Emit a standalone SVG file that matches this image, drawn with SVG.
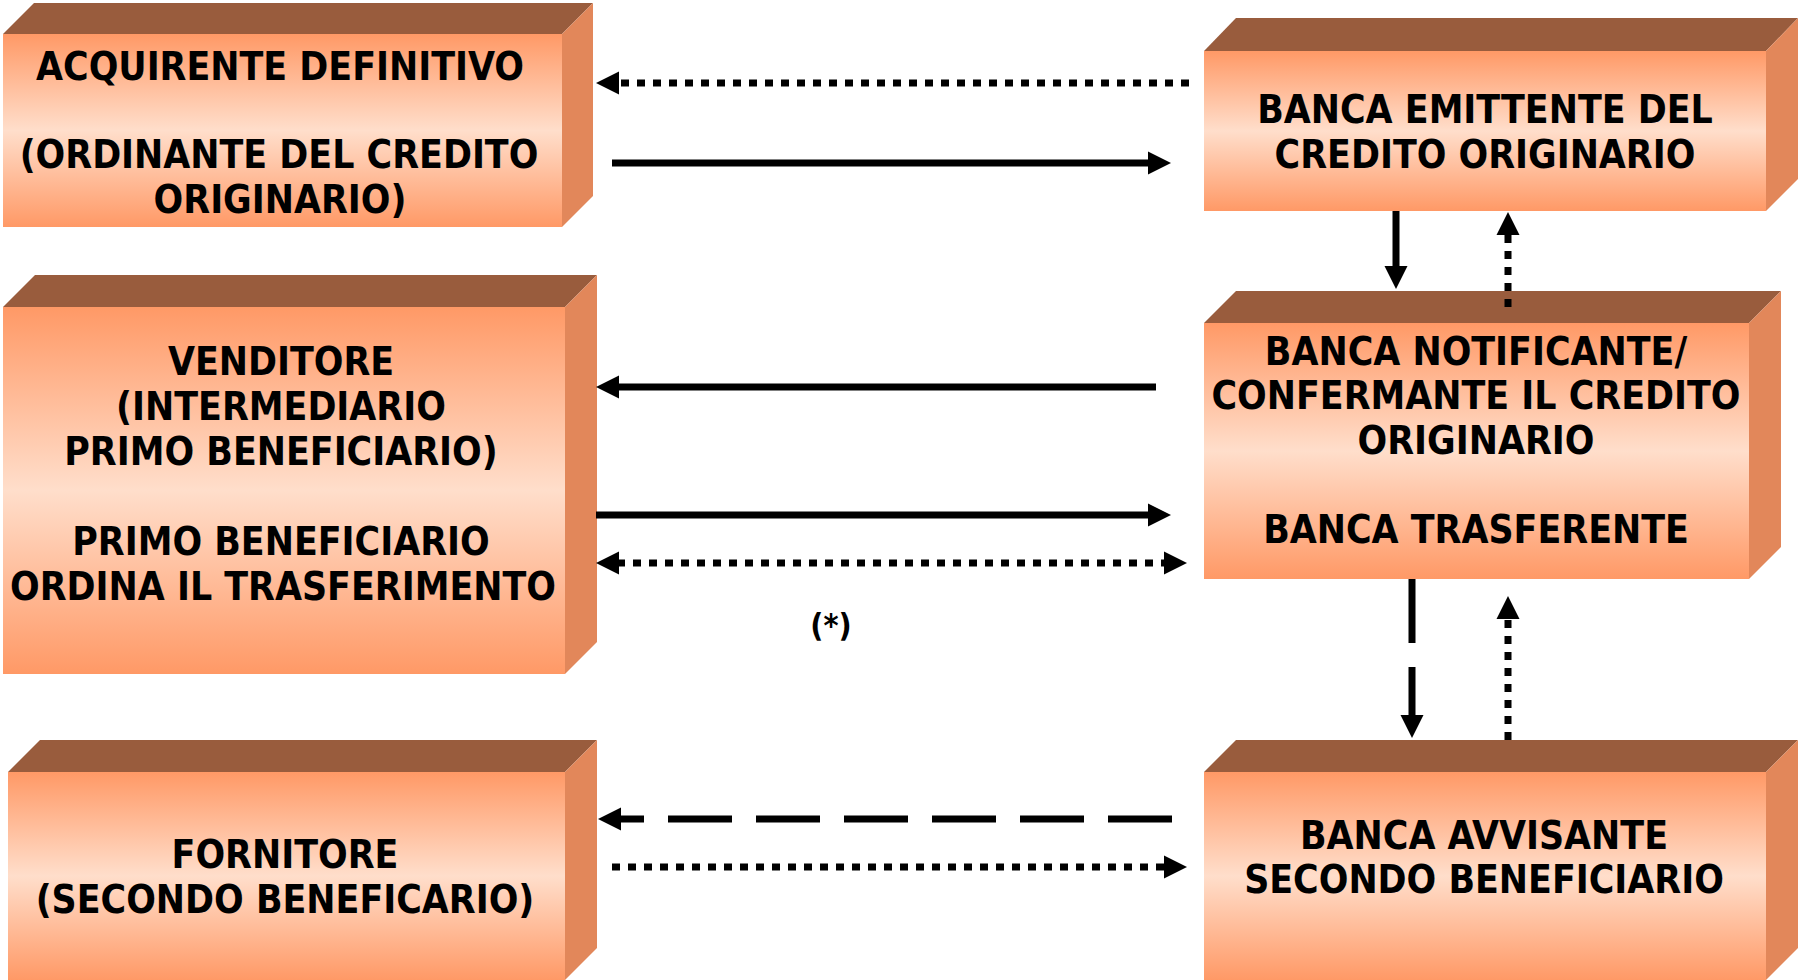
<svg xmlns="http://www.w3.org/2000/svg" width="1798" height="980" viewBox="0 0 1798 980">
<style>
.top{fill:#995C3D}
.side{fill:#E2875A}
.t{font-family:"DejaVu Sans Condensed","DejaVu Sans",sans-serif;font-weight:bold;font-size:38.8px;fill:#000;text-anchor:middle}
.c{fill:none;stroke:#000;stroke-width:7}
.dot{stroke-dasharray:8 8}
.dash{stroke-dasharray:64 24}
</style>
<defs>
<linearGradient id="g" x1="0" y1="0" x2="0" y2="1">
<stop offset="0" stop-color="#FF9966"/>
<stop offset="0.5" stop-color="#FFDECB"/>
<stop offset="1" stop-color="#FF9966"/>
</linearGradient>
<marker id="ah" markerUnits="userSpaceOnUse" markerWidth="24" markerHeight="24" refX="2" refY="11.5" orient="auto-start-reverse" overflow="visible">
<path d="M0,0 L23,11.5 L0,23 z" fill="#000"/>
</marker>
</defs>
<rect width="1798" height="980" fill="#fff"/>

<g id="acquirente">
<polygon class="top" points="3,34 34,3 593,3 562,34"/>
<polygon class="side" points="562,34 593,3 593,196 562,227"/>
<rect x="3" y="34" width="559" height="193" fill="url(#g)"/>
<text class="t" x="280" y="80">ACQUIRENTE DEFINITIVO</text>
<text class="t" x="279" y="168">(ORDINANTE DEL CREDITO</text>
<text class="t" x="280" y="213">ORIGINARIO)</text>
</g>

<g id="banca-emittente">
<polygon class="top" points="1204,51 1236,18 1798,18 1766,51"/>
<polygon class="side" points="1766,51 1798,18 1798,179 1766,211"/>
<rect x="1204" y="51" width="562" height="160" fill="url(#g)"/>
<text class="t" x="1485" y="123">BANCA EMITTENTE DEL</text>
<text class="t" x="1485" y="168">CREDITO ORIGINARIO</text>
</g>

<g id="venditore">
<polygon class="top" points="3,307 35,275 597,275 565,307"/>
<polygon class="side" points="565,307 597,275 597,642 565,674"/>
<rect x="3" y="307" width="562" height="367" fill="url(#g)"/>
<text class="t" x="281" y="375">VENDITORE</text>
<text class="t" x="281" y="420">(INTERMEDIARIO</text>
<text class="t" x="281" y="465">PRIMO BENEFICIARIO)</text>
<text class="t" x="281" y="555">PRIMO BENEFICIARIO</text>
<text class="t" x="283" y="600">ORDINA IL TRASFERIMENTO</text>
</g>

<g id="banca-notificante">
<polygon class="top" points="1204,323 1236,291 1781,291 1749,323"/>
<polygon class="side" points="1749,323 1781,291 1781,547 1749,579"/>
<rect x="1204" y="323" width="545" height="256" fill="url(#g)"/>
<text class="t" x="1476" y="365">BANCA NOTIFICANTE/</text>
<text class="t" x="1476" y="409">CONFERMANTE IL CREDITO</text>
<text class="t" x="1476" y="454">ORIGINARIO</text>
<text class="t" x="1476" y="543">BANCA TRASFERENTE</text>
</g>

<g id="fornitore">
<polygon class="top" points="8,772 40,740 597,740 565,772"/>
<polygon class="side" points="565,772 597,740 597,948 565,980"/>
<rect x="8" y="772" width="557" height="208" fill="url(#g)"/>
<text class="t" x="285" y="868">FORNITORE</text>
<text class="t" x="285" y="913">(SECONDO BENEFICARIO)</text>
</g>

<g id="banca-avvisante">
<polygon class="top" points="1204,772 1236,740 1798,740 1766,772"/>
<polygon class="side" points="1766,772 1798,740 1798,948 1766,980"/>
<rect x="1204" y="772" width="562" height="208" fill="url(#g)"/>
<text class="t" x="1484" y="849">BANCA AVVISANTE</text>
<text class="t" x="1484" y="893">SECONDO BENEFICIARIO</text>
</g>

<g id="connectors">
<line class="c dot" x1="1189" y1="83" x2="617" y2="83" marker-end="url(#ah)"/>
<line class="c" x1="612" y1="163" x2="1150" y2="163" marker-end="url(#ah)"/>
<line class="c" x1="1396" y1="211" x2="1396" y2="268" marker-end="url(#ah)"/>
<line class="c dot" x1="1508" y1="307" x2="1508" y2="233" marker-end="url(#ah)"/>
<line class="c" x1="1156" y1="387" x2="617" y2="387" marker-end="url(#ah)"/>
<line class="c" x1="596" y1="515" x2="1150" y2="515" marker-end="url(#ah)"/>
<line class="c dot" x1="617" y1="563" x2="1166" y2="563" marker-start="url(#ah)" marker-end="url(#ah)"/>
<line class="c dash" x1="1412" y1="579" x2="1412" y2="717" marker-end="url(#ah)"/>
<line class="c dot" x1="1508" y1="740" x2="1508" y2="617" marker-end="url(#ah)"/>
<line class="c dash" x1="1172" y1="819" x2="619" y2="819" marker-end="url(#ah)"/>
<line class="c dot" x1="612" y1="867" x2="1166" y2="867" marker-end="url(#ah)"/>
</g>
<text class="t" x="831" y="636" style="font-size:32px">(*)</text>
</svg>
